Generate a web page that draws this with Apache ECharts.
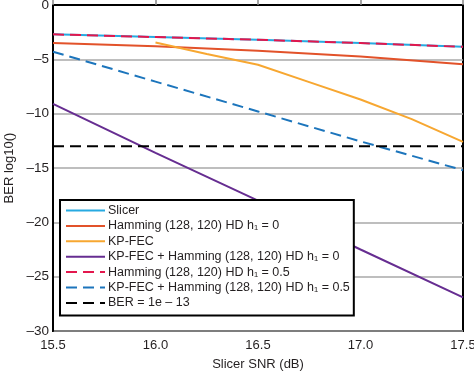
<!DOCTYPE html>
<html><head><meta charset="utf-8">
<script src="https://cdn.jsdelivr.net/npm/echarts@6/dist/echarts.min.js"></script>
<style>html,body{margin:0;padding:0;background:#fff}#c{width:474px;height:374px}</style>
</head><body><div id="c"></div>
<script>
// ---- data ----
const slicerX = [15.5, 16.0, 16.5, 17.0, 17.5];
const slicerY = [-2.7, -2.95, -3.2, -3.5, -3.85];
const hamming0X = [15.5, 16.0, 16.5, 17.0, 17.5];
const hamming0Y = [-3.5, -3.8, -4.2, -4.75, -5.45];
const kpfecX = [16.0, 16.25, 16.5, 16.75, 17.0, 17.25, 17.5];
const kpfecY = [-3.45, -4.5, -5.5, -7.1, -8.7, -10.5, -12.6];
const kpHam0X = [15.5, 16.0, 16.5, 17.0, 17.5];
const kpHam0Y = [-9.1, -13.6, -18.0, -22.5, -26.9];
const hamming05X = [15.5, 16.0, 16.5, 17.0, 17.5];
const hamming05Y = [-2.7, -2.95, -3.2, -3.5, -3.85];
const kpHam05X = [15.5, 16.0, 16.5, 17.0, 17.5];
const kpHam05Y = [-4.3, -7.05, -9.8, -12.55, -15.2];
const berX = [15.5, 17.5];
const berY = [-13, -13];
const seriesNames = ['Slicer', 'Hamming (128, 120) HD h\u2081 = 0', 'KP-FEC',
  'KP-FEC + Hamming (128, 120) HD h\u2081 = 0', 'Hamming (128, 120) HD h\u2081 = 0.5',
  'KP-FEC + Hamming (128, 120) HD h\u2081 = 0.5', 'BER = 1e \u2013 13'];
const xTicks = [15.5, 16.0, 16.5, 17.0, 17.5];

const zip = (xs, ys) => xs.map((x, i) => [x, ys[i]]);
const FONT = "'Liberation Sans', Arial, sans-serif";
const TXT = '#231f20';

function ln(name, xs, ys, color, dashed, z) {
  return {
    name, type: 'line', data: zip(xs, ys), symbol: 'none', showSymbol: false, z: z || 2,
    lineStyle: { color, width: 2, type: dashed ? [11, 6] : 'solid' },
    itemStyle: { color }
  };
}

const chart = echarts.init(document.getElementById('c'), null, { renderer: 'canvas' });
chart.setOption({
  animation: false,
  grid: { left: 53, right: 11, top: 5, bottom: 43, containLabel: false, outerBoundsMode: 'none',
    show: true, borderColor: '#000', borderWidth: 2, backgroundColor: 'transparent' },
  xAxis: {
    type: 'value', min: 15.5, max: 17.5, interval: 0.5,
    name: 'Slicer SNR (dB)', nameLocation: 'middle', nameGap: 27,
    nameTextStyle: { fontFamily: FONT, fontSize: 13, color: TXT },
    axisLine: { show: true, lineStyle: { color: '#000', width: 2 } },
    axisTick: { show: true, inside: true, length: 6, lineStyle: { color: '#888', width: 1.5 } },
    axisLabel: { fontFamily: FONT, fontSize: 13, color: TXT, margin: 8,
      formatter: v => xTicks.includes(+v.toFixed(1)) ? v.toFixed(1) : '' },
    splitLine: { show: false }
  },
  yAxis: {
    type: 'value', min: -30, max: 0, interval: 5,
    name: 'BER log10()', nameLocation: 'middle', nameGap: 37,
    nameTextStyle: { fontFamily: FONT, fontSize: 13, color: TXT },
    axisLine: { show: true, lineStyle: { color: '#000', width: 2 } },
    axisTick: { show: false },
    axisLabel: { fontFamily: FONT, fontSize: 13.5, color: TXT, margin: 4,
      formatter: v => v < 0 ? '\u2013' + Math.abs(v) : String(v) },
    splitLine: { show: true, lineStyle: { color: '#a8a8a8', width: 1.5 } }
  },
  legend: {
    orient: 'vertical', left: 60, top: 200,
    data: seriesNames,
    itemWidth: 39, itemHeight: 14, itemGap: 2.4,
    padding: [4, 4, 6, 5],
    backgroundColor: '#fff', borderColor: '#000', borderWidth: 2,
    itemStyle: { opacity: 0 },
    textStyle: { fontFamily: FONT, fontSize: 12.5, color: TXT, padding: [0, 0, 0, -2] }
  },
  series: [
    ln(seriesNames[0], slicerX, slicerY, '#27aae1', false, 2),
    ln(seriesNames[1], hamming0X, hamming0Y, '#e2522a', false, 2),
    ln(seriesNames[2], kpfecX, kpfecY, '#f7a731', false, 2),
    ln(seriesNames[3], kpHam0X, kpHam0Y, '#662d91', false, 2),
    ln(seriesNames[4], hamming05X, hamming05Y, '#e3174d', true, 3),
    ln(seriesNames[5], kpHam05X, kpHam05Y, '#1c75bc', true, 2),
    ln(seriesNames[6], berX, berY, '#000000', true, 2)
  ]
});
</script></body></html>
